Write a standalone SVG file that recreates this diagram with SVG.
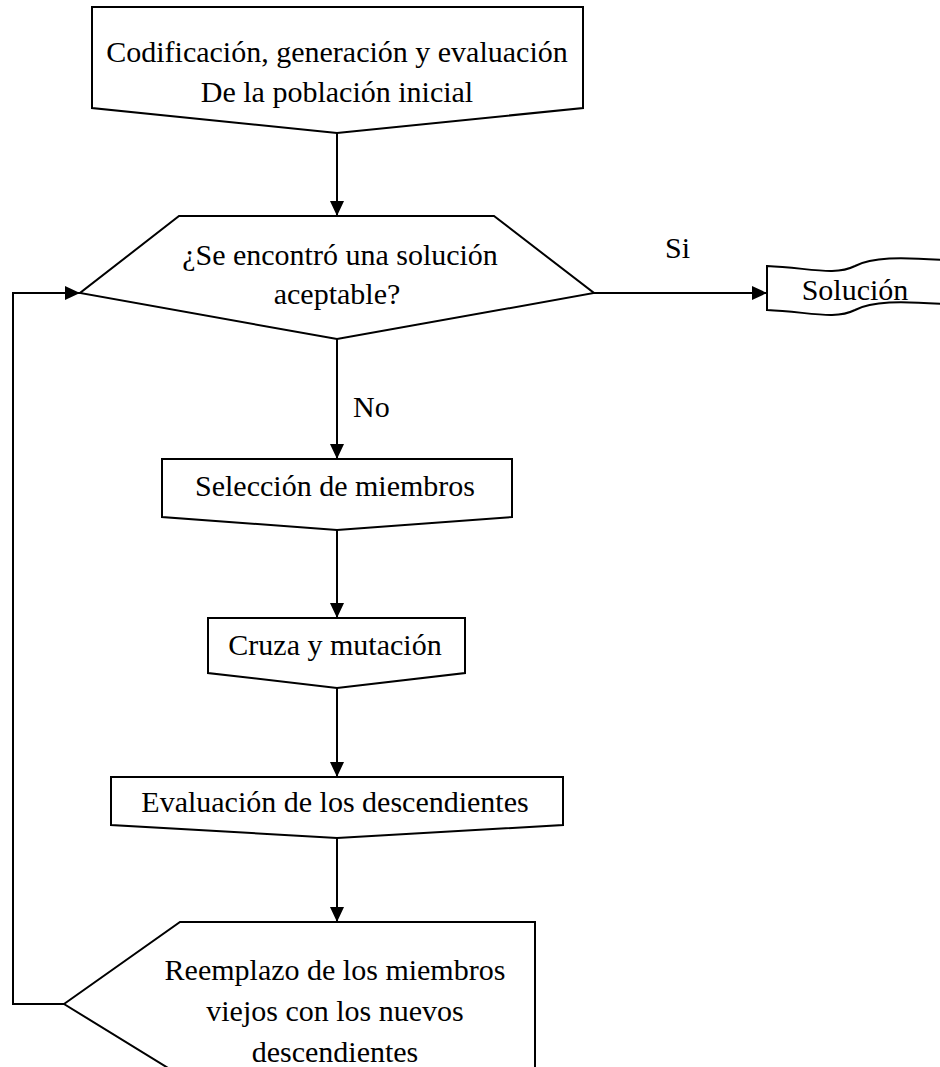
<svg xmlns="http://www.w3.org/2000/svg" width="940" height="1067" viewBox="0 0 940 1067">
<style>
.shape{fill:#fff;stroke:#000;stroke-width:2;stroke-linejoin:miter}
.conn{fill:none;stroke:#000;stroke-width:2}
text{font-family:"Liberation Serif","Times New Roman",serif;font-size:30px;fill:#000}
.c{text-anchor:middle}
</style>
<defs>
<marker id="arr" viewBox="0 0 15 14" refX="15" refY="7" markerWidth="15" markerHeight="14" markerUnits="userSpaceOnUse" orient="auto">
<path d="M0,0 L15,7 L0,14 z" fill="#000"/>
</marker>
</defs>
<rect width="940" height="1067" fill="#fff"/>
<g id="n-inicio">
<polygon class="shape" points="92,7 583,7 583,108 337,133 92,108"/>
<text class="c" x="337" y="62">Codificación, generación y evaluación</text>
<text class="c" x="337" y="102">De la población inicial</text>
</g>
<g id="n-decision">
<polygon class="shape" points="179,216 494,216 594,293 337,339 80,293"/>
<text class="c" x="340" y="265">¿Se encontró una solución</text>
<text class="c" x="337" y="304">aceptable?</text>
</g>
<g id="n-solucion">
<path class="shape" d="M767,266 C810,268 835,276 855,266 C872,257 900,257 943,260 L943,304 C900,301 872,301 855,310 C835,320 810,312 767,310 Z"/>
<text class="c" x="855" y="300">Solución</text>
</g>
<g id="n-seleccion">
<polygon class="shape" points="162,459 512,459 512,517 337,530 162,517"/>
<text class="c" x="335" y="496">Selección de miembros</text>
</g>
<g id="n-cruza">
<polygon class="shape" points="208,618 465,618 465,673 337,688 208,673"/>
<text class="c" x="335" y="655">Cruza y mutación</text>
</g>
<g id="n-evaluacion">
<polygon class="shape" points="111,777 563,777 563,825 337,838 111,825"/>
<text class="c" x="335" y="812">Evaluación de los descendientes</text>
</g>
<g id="n-reemplazo">
<polygon class="shape" points="64,1004 180,922 535,922 535,1095 212,1095"/>
<text class="c" x="335" y="980">Reemplazo de los miembros</text>
<text class="c" x="335" y="1021">viejos con los nuevos</text>
<text class="c" x="335" y="1062">descendientes</text>
</g>
<g id="connectors">
<path class="conn" d="M337,133 V216" marker-end="url(#arr)"/>
<path class="conn" d="M337,339 V459" marker-end="url(#arr)"/>
<path class="conn" d="M337,530 V618" marker-end="url(#arr)"/>
<path class="conn" d="M337,688 V777" marker-end="url(#arr)"/>
<path class="conn" d="M337,838 V922" marker-end="url(#arr)"/>
<path class="conn" d="M594,293 H767" marker-end="url(#arr)"/>
<path class="conn" d="M64,1004 H13 V293 H80" marker-end="url(#arr)"/>
<text x="665" y="258">Si</text>
<text x="353" y="417">No</text>
</g>
</svg>
